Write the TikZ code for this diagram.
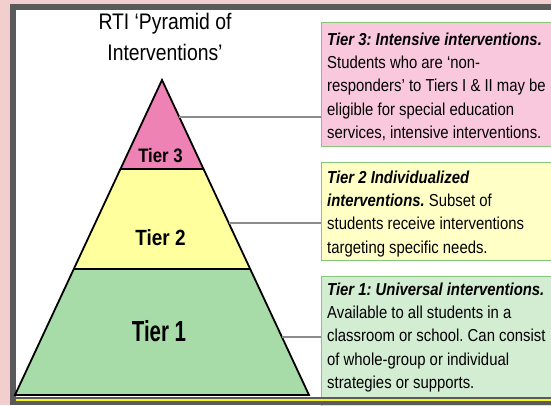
\documentclass[tikz,border=0pt]{standalone}
\usepackage{fontspec}
\usepackage{graphicx}
\setmainfont{Liberation Sans}
\newfontfamily\narrowfont[FakeStretch=0.86]{Liberation Sans}
\usetikzlibrary{calc}
\frenchspacing
\definecolor{bgPink}{HTML}{F2CECF}
\definecolor{frameGray}{HTML}{5A5A5A}
\definecolor{yellowLine}{HTML}{F5F51A}
\definecolor{tierPink}{HTML}{EF82B4}
\definecolor{tierYellow}{HTML}{FFFF9E}
\definecolor{tierGreen}{HTML}{A7DBA7}
\definecolor{boxPink}{HTML}{FAC8DC}
\definecolor{boxYellow}{HTML}{FFFFC6}
\definecolor{boxGreenFill}{HTML}{D3EDD3}
\definecolor{boxEdge}{HTML}{86C67A}
\definecolor{connGray}{HTML}{8C8C8C}
\begin{document}
\frenchspacing
\begin{tikzpicture}[x=1pt,y=-1pt,
  tierline/.style={draw=black,line width=1.8pt,line join=miter},
  conn/.style={draw=connGray,line width=1.1pt},
  infobox/.style={draw=boxEdge,line width=0.9pt,inner sep=0pt,anchor=north west,minimum width=245pt},
  infotext/.style={anchor=base west,align=left,inner sep=0pt,font=\narrowfont\frenchspacing\fontsize{17.3}{23.4}\selectfont},
  tierlabel/.style={anchor=base,inner sep=0pt}]

\useasboundingbox (0,0) rectangle (551,405);
\fill[bgPink] (0,0) rectangle (551,405);
\fill[frameGray] (10,3.5) rectangle (551,405);
\fill[white] (15.5,9.5) rectangle (551,397);

% title (anchor base = baseline of last line)
\node[align=center,anchor=base,inner sep=0pt,font=\narrowfont\fontsize{22.5}{30.5}\selectfont] (title) at (165,60) {RTI ‘Pyramid of\\Interventions’};

% pyramid geometry
\coordinate (A) at (162,80);
\coordinate (BL) at (15,395);
\coordinate (BR) at (309,395);
\coordinate (L3) at ($(A)!0.2825!(BL)$);
\coordinate (R3) at ($(A)!0.2825!(BR)$);
\coordinate (L2) at ($(A)!0.6!(BL)$);
\coordinate (R2) at ($(A)!0.6!(BR)$);
\coordinate (c3) at ($(A)!0.1175!(BR)$);
\coordinate (c2) at ($(A)!0.454!(BR)$);
\coordinate (c1) at ($(A)!0.816!(BR)$);

\fill[tierPink] (A) -- (L3) -- (R3) -- cycle;
\fill[tierYellow] (L3) -- (L2) -- (R2) -- (R3) -- cycle;
\fill[tierGreen] (L2) -- (BL) -- (BR) -- (R2) -- cycle;
\draw[tierline] (L3) -- (R3);
\draw[tierline] (L2) -- (R2);
\draw[tierline] (A) -- (BL) -- (BR) -- cycle;

\node[tierlabel,font=\narrowfont\bfseries\fontsize{19.5}{20}\selectfont] (l3) at (160.5,162) {Tier 3};
\node[tierlabel,font=\narrowfont\bfseries\fontsize{22}{24}\selectfont] (l2) at (160.5,245.7) {Tier 2};
\node[tierlabel,font=\narrowfont\bfseries\fontsize{29}{30}\selectfont] (l1) at (159,341.7) {\scalebox{0.82}[1]{Tier 1}};

% boxes
\node[infobox,fill=boxPink,minimum height=124pt] (b3) at (320.5,22) {};
\node[infobox,fill=boxYellow,minimum height=98pt] (b2) at (320.5,162) {};
\node[infobox,fill=boxGreenFill,minimum height=130pt] (b1) at (321,276) {};

\draw[conn] (c3) -- (c3 -| b3.west);
\draw[conn] (c2) -- (c2 -| b2.west);
\draw[conn] (c1) -- (c1 -| b1.west);

% text blocks (anchor base = baseline of last line)
\node[infotext] (t3) at (327,138.6) {\textbf{\textit{Tier 3: Intensive interventions.}}\\Students who are ‘non-\\responders’ to Tiers I \& II may be\\eligible for special education\\services, intensive interventions.};
\node[infotext] (t2) at (327,253.2) {\textbf{\textit{Tier 2 Individualized}}\\\textbf{\textit{interventions.}} Subset of\\students receive interventions\\targeting specific needs.};
\node[infotext] (t1) at (327,388.6) {\textbf{\textit{Tier 1: Universal interventions.}}\\Available to all students in a\\classroom or school. Can consist\\of whole-group or individual\\strategies or supports.};

% bottom strip
\fill[frameGray] (10,397) rectangle (551,405);
\draw[yellowLine,line width=2.2pt] (15.5,399.8) -- (551,399.8);
\end{tikzpicture}
\end{document}
